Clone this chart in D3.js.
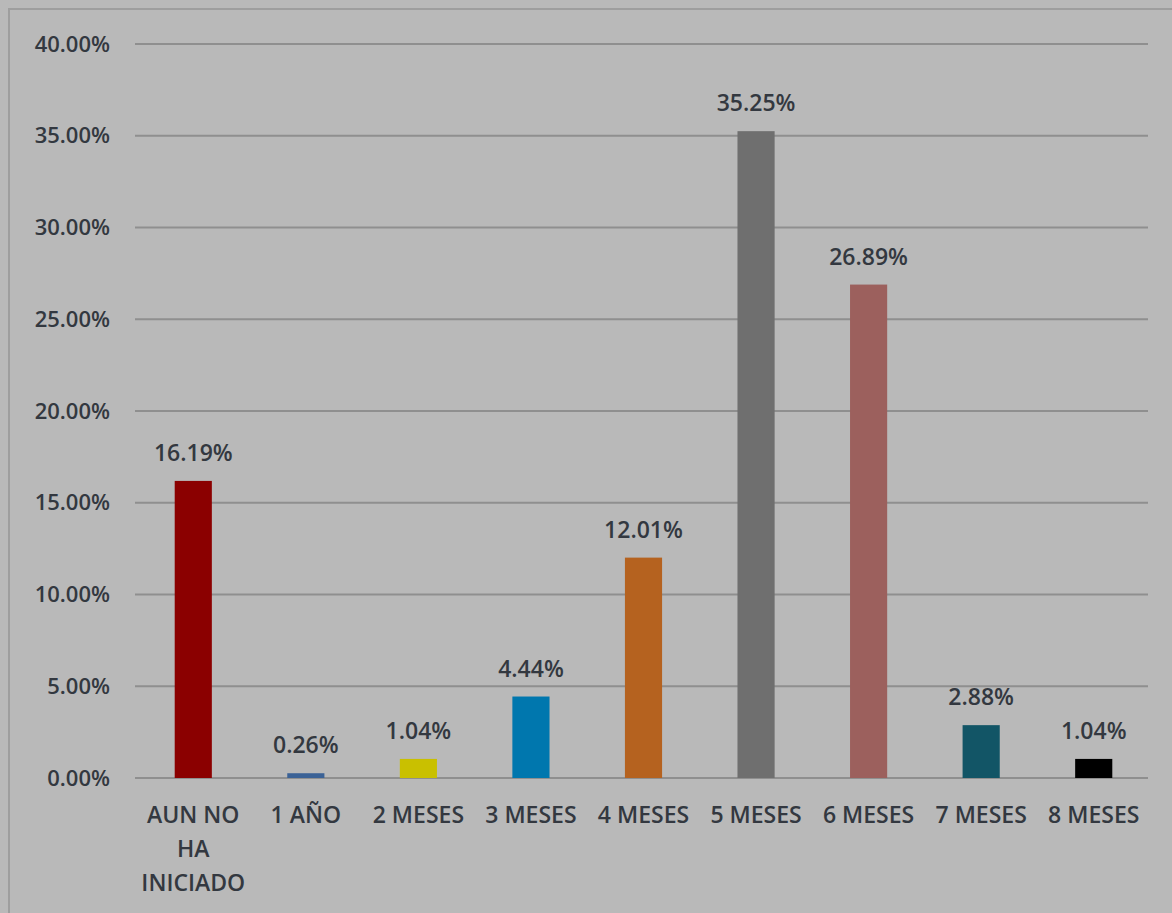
<!DOCTYPE html>
<html>
<head>
<meta charset="utf-8">
<script src="https://cdnjs.cloudflare.com/ajax/libs/d3/7.8.5/d3.min.js"></script>
<style>
  html, body { margin: 0; padding: 0; background: #b9b9b9; }
  svg { display: block; }
</style>
</head>
<body>
<svg id="chart" width="1172" height="913"></svg>
<script>
// Time categories and their share of respondents (%)
const categories = ["AUN NO HA INICIADO", "1 AÑO", "2 MESES", "3 MESES", "4 MESES",
                    "5 MESES", "6 MESES", "7 MESES", "8 MESES"];
const values = [16.19, 0.26, 1.04, 4.44, 12.01, 35.25, 26.89, 2.88, 1.04];
const barColors = ["#8b0000", "#3b6296", "#c9c000", "#0077ae", "#b5621f",
                   "#6f6f6f", "#9c605d", "#125566", "#000000"];
const yTicks = [0, 5, 10, 15, 20, 25, 30, 35, 40];

const W = 1172, H = 913;
const margin = { top: 44, right: 24, bottom: 135, left: 135 };
const svg = d3.select("#chart");
const FONT = "'Open Sans', 'Liberation Sans', sans-serif";
const TEXT = "#333840";
const FS = 23;

// Chart area frame
svg.append("rect").attr("x", 0).attr("y", 0).attr("width", W).attr("height", H).attr("fill", "#b9b9b9");
svg.append("path")
  .attr("d", `M9,${H} L9,9 L${W},9`)
  .attr("fill", "none").attr("stroke", "#9e9e9e").attr("stroke-width", 2);

const x = d3.scaleBand()
  .domain(categories)
  .range([margin.left + 2, W - margin.right + 2])
  .paddingInner(0.67).paddingOuter(0.335);

const y = d3.scaleLinear()
  .domain([0, 40])
  .range([778, margin.top]);

// Gridlines
svg.append("g")
  .selectAll("line").data(yTicks).join("line")
  .attr("x1", margin.left).attr("x2", W - margin.right)
  .attr("y1", d => y(d)).attr("y2", d => y(d))
  .attr("stroke", "#8f8f8f").attr("stroke-width", 2);

// Y axis labels
const yAxis = d3.axisLeft(y).tickValues(yTicks).tickSize(0).tickPadding(0)
  .tickFormat(d => d.toFixed(2) + "%");
svg.append("g")
  .attr("transform", `translate(110,0)`)
  .call(yAxis)
  .call(g => g.select(".domain").remove())
  .selectAll("text")
  .attr("font-family", FONT).attr("font-size", 22).attr("font-weight", 600)
  .attr("fill", TEXT);

// Bars
svg.append("g")
  .selectAll("rect").data(values).join("rect")
  .attr("x", (d, i) => x(categories[i]))
  .attr("width", x.bandwidth())
  .attr("y", d => y(d))
  .attr("height", d => y(0) - y(d))
  .attr("fill", (d, i) => barColors[i]);

// Value labels
svg.append("g")
  .selectAll("text").data(values).join("text")
  .attr("x", (d, i) => x(categories[i]) + x.bandwidth() / 2)
  .attr("y", d => y(d) - 20)
  .attr("text-anchor", "middle")
  .attr("font-family", FONT).attr("font-size", FS).attr("font-weight", 600)
  .attr("fill", TEXT)
  .text(d => d.toFixed(2) + "%");

// Category labels, wrapped to the band step
const xAxis = d3.axisBottom(x).tickSize(0).tickPadding(0);
const xg = svg.append("g")
  .attr("transform", `translate(0,${y(0)})`)
  .call(xAxis)
  .call(g => g.select(".domain").remove());
xg.selectAll("text")
  .attr("font-family", FONT).attr("font-size", FS).attr("font-weight", 600)
  .attr("fill", TEXT)
  .attr("y", 45).attr("dy", 0)
  .each(function(d) {
    const t = d3.select(this);
    const words = d.split(" ");
    const maxW = x.step() * 0.92;
    t.text(null);
    let line = [];
    let lineNo = 0;
    let tspan = t.append("tspan").attr("x", 0).attr("y", 45);
    for (const w of words) {
      line.push(w);
      tspan.text(line.join(" "));
      if (tspan.node().getComputedTextLength() > maxW && line.length > 1) {
        line.pop();
        tspan.text(line.join(" "));
        line = [w];
        lineNo++;
        tspan = t.append("tspan").attr("x", 0).attr("y", 45 + lineNo * 34).text(w);
      }
    }
  });
</script>
</body>
</html>
